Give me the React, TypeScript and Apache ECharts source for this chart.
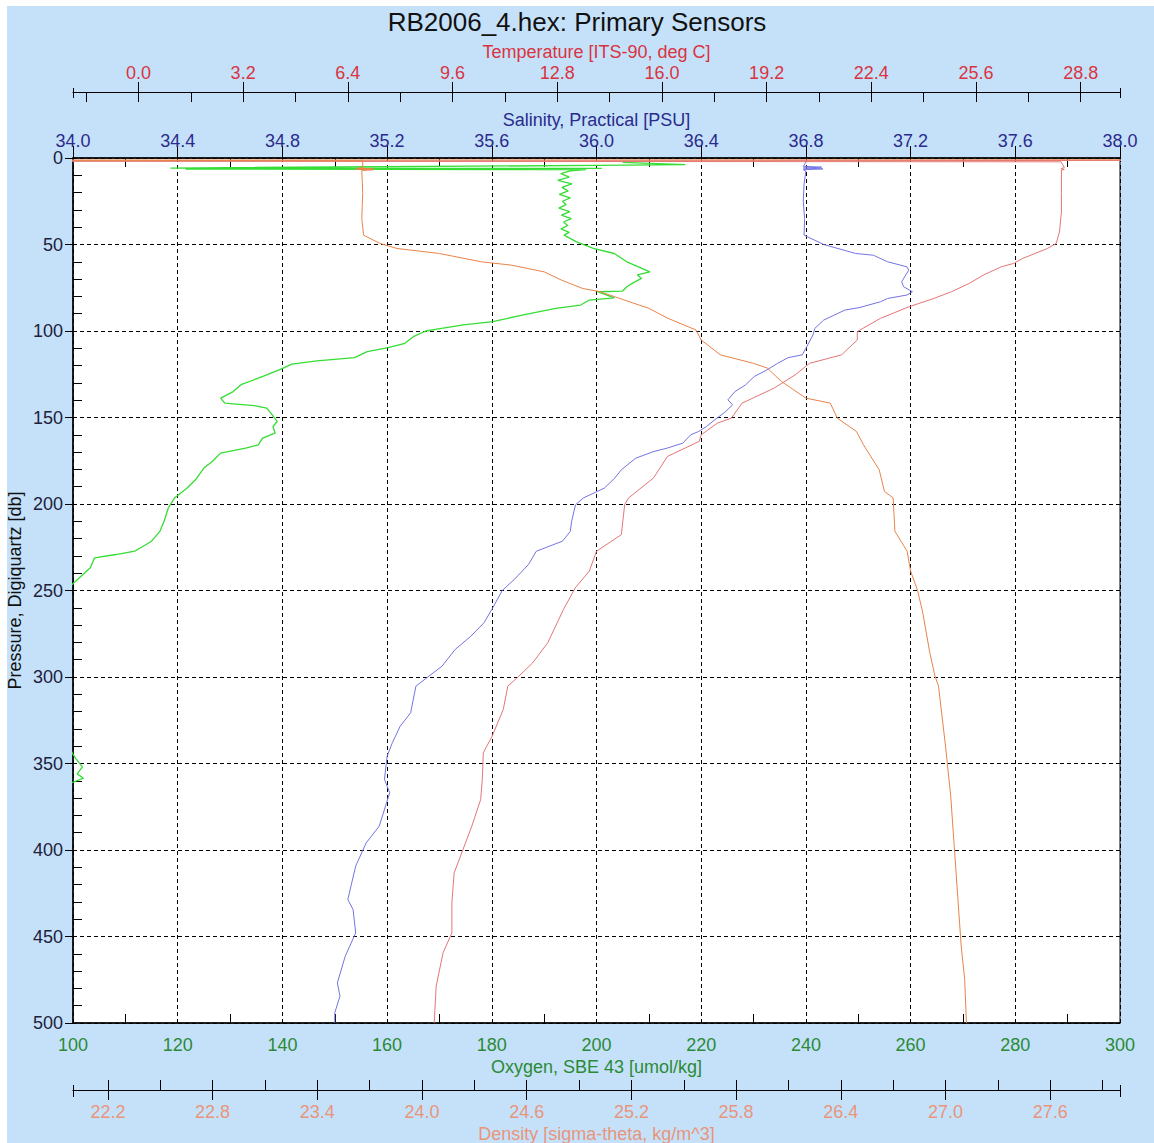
import React, { useEffect, useRef } from 'react';
import * as echarts from 'echarts';

const titleText = 'RB2006_4.hex: Primary Sensors';

// Tick positions (labels) for each axis
const tempTicks = [0, 3.2, 6.4, 9.6, 12.8, 16.0, 19.2, 22.4, 25.6, 28.8];
const tempMinorTicks = [-1.6, 1.6, 4.8, 8.0, 11.2, 14.4, 17.6, 20.8, 24.0, 27.2];
const densTicks = [22.2, 22.8, 23.4, 24.0, 24.6, 25.2, 25.8, 26.4, 27.0, 27.6];
const densMinorTicks = [22.5, 23.1, 23.7, 24.3, 24.9, 25.5, 26.1, 26.7, 27.3, 27.9];
const salMinorTicks = [34.2, 34.6, 35.0, 35.4, 35.8, 36.2, 36.6, 37.0, 37.4, 37.8];
const oxyMinorTicks = [110, 130, 150, 170, 190, 210, 230, 250, 270, 290];
const presMinorTicks = [10, 20, 30, 40, 60, 70, 80, 90, 110, 120, 130, 140, 160, 170, 180, 190,
  210, 220, 230, 240, 260, 270, 280, 290, 310, 320, 330, 340, 360, 370, 380, 390,
  410, 420, 430, 440, 460, 470, 480, 490];

// Oxygen, SBE 43 [umol/kg]
const oxygenPressure = [2.5, 3.8, 4.3, 5.8, 6.0, 6.4, 6.7, 7.5, 9, 11, 13, 15, 17, 19, 21, 23, 25, 27, 29, 31, 33, 35, 37, 39, 41, 43,
  44.6, 48.5, 52.3, 55.2, 60, 65.8, 67.5, 69.6, 72.5, 74.4, 76.9, 77.3, 80.8, 82.1, 85, 86.9, 90.8, 94.6, 96.5, 98.8,
  100, 103.3, 107.1, 109.6, 111.9, 115.4, 117.3, 119.2, 122.5, 125.4, 127.3, 130.8, 135, 138.8, 141.7, 143.1, 144.6,
  147.5, 152.3, 155.2, 159, 161.9, 165.8, 167.7, 170.6, 175.4, 179.2, 186, 190.8, 196.5, 202.3, 210, 215.8, 221.5,
  227.3, 229.2, 231.2, 236.9, 244.6, 255, 290, 330, 347, 352, 356, 358.5, 362, 380, 420, 500];
const oxygenValues = [205, 217, 200, 118.6, 201, 121.5, 198, 195, 193.2, 194.8, 192.6, 195.3, 193.4, 194.6, 192.9, 195.0, 193.5, 194.2, 192.8, 194.9, 193.3, 195.2, 193.7, 194.5, 193.2, 194.8,
  193.8, 196.2, 199.4, 203.4, 205.8, 210.2, 207.8, 208.6, 206.8, 205.8, 205.0, 200.2, 203.4, 198.6, 197.0, 192.2, 185.8, 180.2, 174.6, 169.8,
  167.4, 165.0, 163.4, 160.2, 156.2, 153.8, 146.6, 141.8, 139.4, 137.0, 135.4, 132.2, 130.6, 128.2, 129.0, 134.6, 137.0,
  137.8, 139.0, 138.2, 138.6, 136.2, 135.4, 133.0, 128.2, 126.6, 125.0, 123.4, 121.8, 119.4, 118.2, 117.4, 116.6, 115.0,
  111.8, 108.2, 104.1, 103.3, 100.5, 97, 94, 97, 100.5, 101.8, 100.8, 102, 99, 96, 93, 92];

// Salinity, Practical [PSU]
const salinityPressure = [2.3, 4.8, 5.3, 5.8, 6.3, 6.8, 7.5, 15, 25, 35, 44.6, 50, 55.2, 56.2, 60, 62.9, 64.8, 71.5, 74.4, 77.3,
  79.2, 81.2, 83.1, 86.5, 87.9, 93.7, 98.5, 102.3, 110, 113.8, 115.4, 118.7, 122.5, 126.3, 131.2, 135, 139.8, 142.7,
  147, 150.4, 155.2, 158.1, 160, 164.8, 167.7, 169.6, 173.5, 180.2, 185, 190.8, 196.5, 200.4, 210, 215.8, 221.5, 227.3,
  235, 243.6, 250, 261, 268.7, 276.4, 284.1, 293.7, 299.5, 305.3, 320.7, 328.4, 338, 345.8, 359.2, 366.9, 386.2, 395.9,
  409.3, 428.6, 434.4, 447.9, 461.4, 476.8, 484.5, 494.1, 500];
const salinityValues = [36.80, 36.79, 36.86, 36.79, 36.865, 36.79, 36.80, 36.793, 36.79, 36.795, 36.793, 36.868, 36.99, 37.058, 37.112, 37.186, 37.193, 37.166, 37.173, 37.207,
  37.186, 37.112, 37.085, 37.003, 36.949, 36.868, 36.834, 36.827, 36.80, 36.786, 36.732, 36.692, 36.651, 36.603, 36.569, 36.529, 36.502, 36.52,
  36.49, 36.46, 36.42, 36.39, 36.36, 36.33, 36.27, 36.22, 36.15, 36.095, 36.07, 36.03, 35.95, 35.92, 35.905, 35.90, 35.87, 35.77,
  35.74, 35.686, 35.64, 35.60, 35.57, 35.52, 35.46, 35.41, 35.36, 35.31, 35.29, 35.25, 35.22, 35.20, 35.19, 35.21, 35.17, 35.12,
  35.08, 35.05, 35.07, 35.08, 35.04, 35.01, 35.02, 35.00, 35.00];

// Temperature [ITS-90, deg C]
const temperaturePressure = [1.4, 1.8, 2.2, 5.5, 6.2, 6.6, 7.0, 20, 31.2, 42.7, 49.4, 52.3, 58.1, 61, 62.9, 67.7, 72.5, 77.3, 81.2, 86,
  92.7, 98.5, 100.4, 105.2, 113.8, 118.7, 125.4, 133.1, 141.7, 150.4, 153.3, 160, 163.8, 172.5, 185, 196.5, 200.4, 217.7,
  227.3, 238.8, 248.5, 261, 280.2, 291.8, 299.5, 305.3, 318.8, 334.2, 343.8, 359.2, 370.8, 386.2, 399.7, 413.2, 430.5,
  447.9, 459.4, 478.7, 500];
const temperatureValues = [31, -3, 28.2, 28.3, 28.2, 28.3, 28.21, 28.21, 28.21, 28.15, 28.05, 27.78, 27.02, 26.74, 26.37, 25.82, 25.39, 24.85, 24.31, 23.55,
  22.68, 22.14, 21.97, 21.97, 21.49, 20.51, 20.07, 19.42, 18.45, 18.12, 17.69, 17.2, 17.14, 16.17, 15.74, 14.98, 14.86, 14.76,
  14.0, 13.78, 13.35, 12.99, 12.51, 12.05, 11.63, 11.29, 11.15, 10.81, 10.54, 10.51, 10.46, 10.19, 9.92, 9.65, 9.58,
  9.58, 9.31, 9.1, 9.04];

// Density [sigma-theta, kg/m^3]
const densityPressure = [1.0, 1.2, 1.6, 5.5, 6.0, 6.2, 6.5, 6.8, 7.2, 20, 35, 44.6, 49.4, 52.3, 55.2, 60, 61.9, 65.8, 70.6, 75.4,
  77.3, 82.1, 86.9, 92.7, 99.4, 105.2, 113.8, 118.7, 121.5, 129.2, 138.8, 141.7, 150.4, 158.1, 165.8, 175.4, 180.2, 192.7,
  196.5, 215.8, 227.3, 238.8, 250, 262.9, 286, 299.5, 305.3, 339.9, 368.9, 397.8, 426.7, 455.6, 474.9, 500];
const densityValues = [29, 21, 23.66, 23.66, 23.63, 23.72, 23.62, 23.72, 23.655, 23.66, 23.655, 23.665, 23.76, 23.857, 24.10, 24.34, 24.51, 24.70, 24.80, 24.92,
  25.02, 25.16, 25.30, 25.41, 25.57, 25.60, 25.71, 25.90, 25.98, 26.06, 26.20, 26.34, 26.38, 26.49, 26.53, 26.59, 26.62, 26.65,
  26.70, 26.71, 26.78, 26.80, 26.84, 26.87, 26.91, 26.94, 26.96, 27.00, 27.03, 27.05, 27.07, 27.09, 27.11, 27.12];

const FONT = 'Liberation Sans, Arial, sans-serif';
const C_TEMP = '#d9343f';
const C_SAL = '#2b2b8c';
const C_OXY = '#2b8a35';
const C_DENS = '#e8957a';
const C_AXIS = '#000000';

const pairs = (xs: number[], ps: number[]) => xs.map((v, i) => [v, ps[i]]);

const hidden = {
  axisLine: { show: false, onZero: false },
  axisTick: { show: false },
  axisLabel: { show: false },
  splitLine: { show: false },
  minorTick: { show: false },
};

function tickAxis(position: string, min: number, max: number, offset: number, values: number[], inside: boolean, length: number, extra: any = {}) {
  return {
    type: 'value', position, min, max, offset,
    ...hidden,
    axisTick: { show: true, inside, length, customValues: values, lineStyle: { color: C_AXIS, width: 1 } },
    ...extra,
  };
}

export default function App() {
  const ref = useRef<HTMLDivElement>(null);
  useEffect(() => {
    document.body.style.margin = '0';
    const chart = echarts.init(ref.current!, null, { renderer: 'svg' });
    const labelStyle = (color: string) => ({ color, fontSize: 18, fontFamily: FONT });
    const option: any = {
      animation: false,
      backgroundColor: 'transparent',
      title: {
        text: titleText, left: 'center', top: 4,
        textStyle: { fontSize: 26, fontWeight: 'normal', color: '#111', fontFamily: FONT },
      },
      graphic: [
        { type: 'rect', z: -10, silent: true, shape: { x: 7, y: 6, width: 1147, height: 1137 }, style: { fill: '#c5e1fa' } },
      ],
      grid: {
        left: 73, top: 158, width: 1047, height: 865, show: true, backgroundColor: '#ffffff',
        borderColor: '#000', borderWidth: 1, containLabel: false, outerBoundsMode: 'none',
      },
      xAxis: [
        {
          type: 'value', position: 'bottom', min: 100, max: 300, interval: 20,
          axisLine: { show: true, onZero: false, lineStyle: { color: C_AXIS, width: 1.5 } },
          axisTick: { show: false },
          axisLabel: { ...labelStyle(C_OXY), margin: 13 },
          splitLine: { show: true, lineStyle: { color: '#000', type: [4, 3], width: 1 } },
          name: 'Oxygen, SBE 43 [umol/kg]', nameLocation: 'middle', nameGap: 35, nameMoveOverlap: false,
          nameTextStyle: labelStyle(C_OXY),
        },
        tickAxis('bottom', 100, 300, 0, oxyMinorTicks, true, 9),
        {
          type: 'value', position: 'top', min: 34, max: 38, interval: 0.4,
          axisLine: { show: true, onZero: false, lineStyle: { color: C_AXIS, width: 1.5 } },
          axisTick: { show: true, inside: false, length: 12, lineStyle: { color: C_AXIS } },
          axisLabel: { ...labelStyle(C_SAL), margin: 8, formatter: (v: number) => v.toFixed(1) },
          splitLine: { show: false },
          name: 'Salinity, Practical [PSU]', nameLocation: 'middle', nameGap: 29, nameMoveOverlap: false,
          nameTextStyle: labelStyle(C_SAL),
        },
        tickAxis('top', 34, 38, 0, salMinorTicks, true, 9),
        {
          type: 'value', position: 'top', min: -2, max: 30, offset: 66,
          axisLine: { show: true, onZero: false, lineStyle: { color: C_AXIS, width: 1.2 } },
          axisTick: { show: true, inside: false, length: 10, customValues: tempTicks, lineStyle: { color: C_AXIS } },
          axisLabel: { ...labelStyle(C_TEMP), margin: 10, customValues: tempTicks, formatter: (v: number) => v.toFixed(1) },
          splitLine: { show: false },
          name: 'Temperature [ITS-90, deg C]', nameLocation: 'middle', nameGap: 31, nameMoveOverlap: false,
          nameTextStyle: labelStyle(C_TEMP),
        },
        tickAxis('top', -2, 30, 66, [...tempTicks, ...tempMinorTicks], true, 10),
        tickAxis('top', -2, 30, 66, [-2, 30], false, 4),
        tickAxis('top', -2, 30, 66, [-2, 30], true, 6),
        {
          type: 'value', position: 'bottom', min: 22, max: 28, offset: 67,
          axisLine: { show: true, onZero: false, lineStyle: { color: C_AXIS, width: 1.2 } },
          axisTick: { show: true, inside: false, length: 10, customValues: densTicks, lineStyle: { color: C_AXIS } },
          axisLabel: { ...labelStyle(C_DENS), margin: 13, customValues: densTicks, formatter: (v: number) => v.toFixed(1) },
          splitLine: { show: false },
          name: 'Density [sigma-theta, kg/m^3]', nameLocation: 'middle', nameGap: 35, nameMoveOverlap: false,
          nameTextStyle: labelStyle(C_DENS),
        },
        tickAxis('bottom', 22, 28, 67, [...densTicks, ...densMinorTicks], true, 10),
        tickAxis('bottom', 22, 28, 67, [22, 28], false, 7),
        tickAxis('bottom', 22, 28, 67, [22, 28], true, 5),
      ],
      yAxis: [
        {
          type: 'value', position: 'left', inverse: true, min: 0, max: 500, interval: 50,
          axisLine: { show: true, onZero: false, lineStyle: { color: C_AXIS, width: 1.5 } },
          axisTick: { show: true, inside: false, length: 8, lineStyle: { color: C_AXIS } },
          axisLabel: { ...labelStyle('#20203a'), margin: 10 },
          splitLine: { show: true, lineStyle: { color: '#000', type: [4, 3], width: 1 } },
          name: 'Pressure, Digiquartz [db]', nameLocation: 'middle', nameGap: 49, nameMoveOverlap: false,
          nameTextStyle: labelStyle('#111'),
        },
        {
          type: 'value', position: 'left', inverse: true, min: 0, max: 500,
          ...hidden,
          axisTick: { show: true, inside: true, length: 9, customValues: presMinorTicks, lineStyle: { color: C_AXIS } },
        },
      ],
      series: [
        {
          type: 'line', name: 'Oxygen', xAxisIndex: 0, yAxisIndex: 0, symbol: 'none', clip: true,
          lineStyle: { color: '#35dd35', width: 1.3 }, data: pairs(oxygenValues, oxygenPressure),
        },
        {
          type: 'line', name: 'Salinity', xAxisIndex: 2, yAxisIndex: 0, symbol: 'none', clip: true,
          lineStyle: { color: '#7474e4', width: 1 }, data: pairs(salinityValues, salinityPressure),
        },
        {
          type: 'line', name: 'Temperature', xAxisIndex: 4, yAxisIndex: 0, symbol: 'none', clip: true,
          lineStyle: { color: '#e47676', width: 1 }, data: pairs(temperatureValues, temperaturePressure),
        },
        {
          type: 'line', name: 'Density', xAxisIndex: 8, yAxisIndex: 0, symbol: 'none', clip: true,
          lineStyle: { color: '#e8844a', width: 1 }, data: pairs(densityValues, densityPressure),
        },
      ],
    };
    chart.setOption(option);
    return () => chart.dispose();
  }, []);
  return <div ref={ref} style={{ position: 'absolute', left: 0, top: 0, width: 1154, height: 1143, background: '#ffffff' }} />;
}
